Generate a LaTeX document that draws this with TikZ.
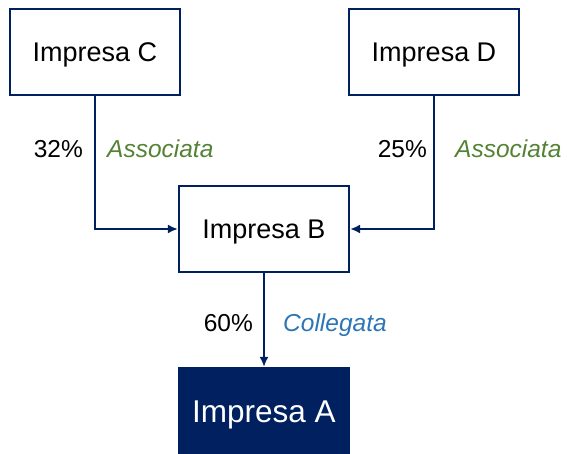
\documentclass[tikz,border=0pt]{standalone}
\usepackage{fontspec}
\setmainfont{Liberation Sans}
\usetikzlibrary{arrows.meta,positioning}
\definecolor{impnavy}{RGB}{0,32,96}
\definecolor{assocgreen}{RGB}{84,130,53}
\definecolor{collblue}{RGB}{46,117,182}

\begin{document}
\begin{tikzpicture}[x=1pt, y=1pt, >={Latex[length=10pt,width=9pt]},
    impresa/.style={rectangle, draw=impnavy, line width=2.2pt, fill=white, minimum width=170pt, minimum height=86pt, text height=19.3pt, text depth=0pt, font=\fontsize{27}{31}\selectfont},
    target/.style={impresa, fill=impnavy, text=white, text height=22.6pt, font=\fontsize{31.5}{36}\selectfont},
    quota/.style={inner sep=0pt, anchor=base east, font=\fontsize{24.5}{28}\selectfont},
    legame/.style={inner sep=0pt, anchor=base west, font=\fontsize{24.5}{28}\selectfont\itshape},
    link/.style={->, draw=impnavy, line width=2.2pt}]
    \useasboundingbox (0,0) rectangle (567,-454);
    % companies
    \node [impresa] (impC) at (95,-52) {Impresa C};
    \node [impresa] (impD) at (434,-52) {Impresa D};
    \node [impresa] (impB) at (264,-229) {Impresa B};
    \node [target] (impA) at (264,-411) {Impresa A};
    % shares and relations
    \node [quota] (quotaC) at (83,-158) {32\%};
    \node [legame, text=assocgreen] (legC) at (107,-158) {Associata};
    \node [quota] (quotaD) at (427,-158) {25\%};
    \node [legame, text=assocgreen] (legD) at (455,-158) {Associata};
    \node [quota] (quotaB) at (253,-331) {60\%};
    \node [legame, text=collblue] (legB) at (283,-331) {Collegata};
    % links
    \draw[link] (impC.south) |- (impB.west);
    \draw[link] (impD.south) |- (impB.east);
    \draw[link] (impB.south) -- (impA.north);
\end{tikzpicture}
\end{document}
